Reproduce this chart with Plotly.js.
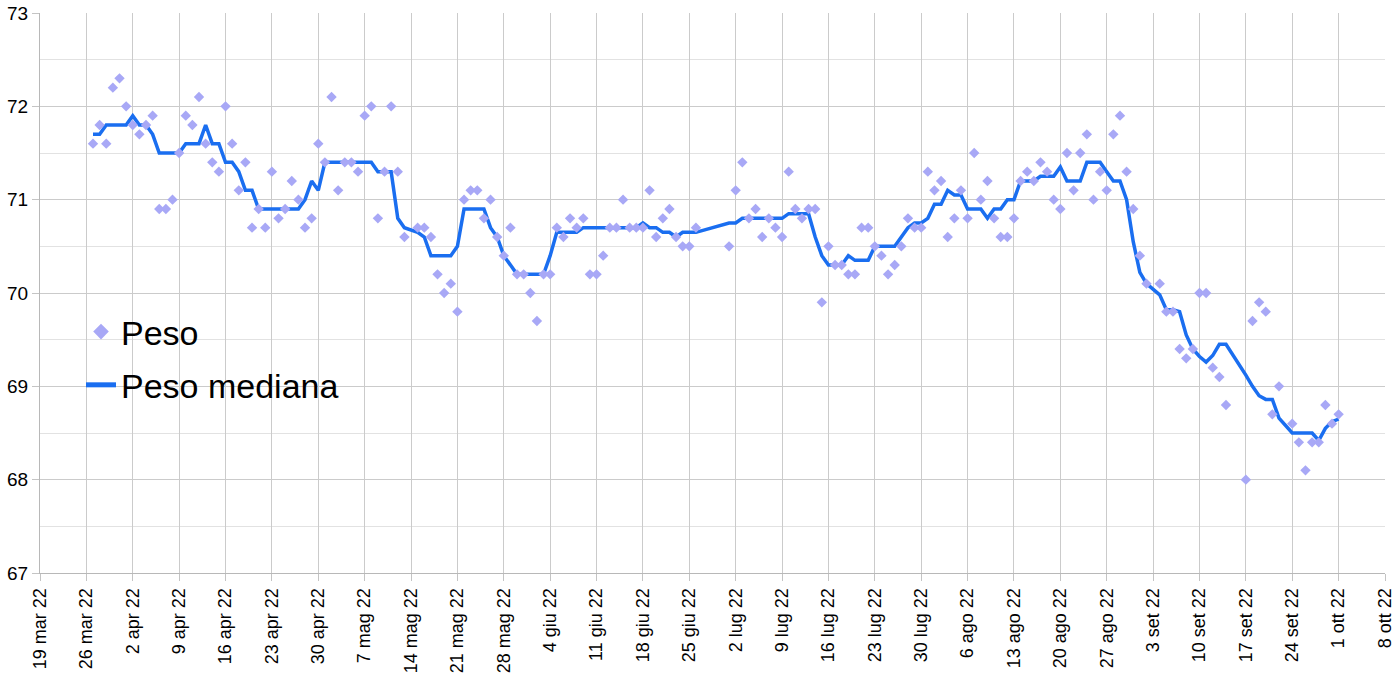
<!DOCTYPE html>
<html><head><meta charset="utf-8">
<script src="https://cdn.plot.ly/plotly-3.0.1.min.js"></script>
<style>html,body{margin:0;padding:0;background:#fff}#chart{width:1400px;height:674px}</style>
</head><body><div id="chart"></div>
<script>
// Dates of the measurements (one per day, with a few missing days)
const dates = [
 '2022-03-27','2022-03-28','2022-03-29','2022-03-30','2022-03-31',
 '2022-04-01','2022-04-02','2022-04-03','2022-04-04','2022-04-05','2022-04-06','2022-04-07','2022-04-08','2022-04-09','2022-04-10',
 '2022-04-11','2022-04-12','2022-04-13','2022-04-14','2022-04-15','2022-04-16','2022-04-17','2022-04-18','2022-04-19','2022-04-20',
 '2022-04-21','2022-04-22','2022-04-23','2022-04-24','2022-04-25','2022-04-26','2022-04-27','2022-04-28','2022-04-29','2022-04-30',
 '2022-05-01','2022-05-02','2022-05-03','2022-05-04','2022-05-05','2022-05-06','2022-05-07','2022-05-08','2022-05-09','2022-05-10',
 '2022-05-11','2022-05-12','2022-05-13',
 '2022-05-15','2022-05-16','2022-05-17','2022-05-18','2022-05-19','2022-05-20','2022-05-21','2022-05-22','2022-05-23','2022-05-24',
 '2022-05-25','2022-05-26','2022-05-27','2022-05-28','2022-05-29','2022-05-30','2022-05-31',
 '2022-06-01','2022-06-02','2022-06-03','2022-06-04','2022-06-05','2022-06-06','2022-06-07','2022-06-08','2022-06-09','2022-06-10',
 '2022-06-11','2022-06-12','2022-06-13','2022-06-14','2022-06-15','2022-06-16','2022-06-17','2022-06-18','2022-06-19','2022-06-20',
 '2022-06-21','2022-06-22','2022-06-23','2022-06-24','2022-06-25','2022-06-26',
 '2022-07-01','2022-07-02','2022-07-03','2022-07-04','2022-07-05','2022-07-06','2022-07-07','2022-07-08','2022-07-09','2022-07-10',
 '2022-07-11','2022-07-12','2022-07-13','2022-07-14','2022-07-15','2022-07-16','2022-07-17','2022-07-18','2022-07-19','2022-07-20',
 '2022-07-21','2022-07-22','2022-07-23','2022-07-24','2022-07-25','2022-07-26','2022-07-27','2022-07-28','2022-07-29','2022-07-30','2022-07-31',
 '2022-08-01','2022-08-02','2022-08-03','2022-08-04','2022-08-05','2022-08-06','2022-08-07','2022-08-08','2022-08-09','2022-08-10',
 '2022-08-11','2022-08-12','2022-08-13','2022-08-14','2022-08-15','2022-08-16','2022-08-17','2022-08-18','2022-08-19','2022-08-20',
 '2022-08-21','2022-08-22','2022-08-23','2022-08-24','2022-08-25','2022-08-26','2022-08-27','2022-08-28','2022-08-29','2022-08-30','2022-08-31',
 '2022-09-01','2022-09-02',
 '2022-09-04','2022-09-05','2022-09-06','2022-09-07','2022-09-08','2022-09-09','2022-09-10','2022-09-11','2022-09-12','2022-09-13','2022-09-14',
 '2022-09-17','2022-09-18','2022-09-19','2022-09-20','2022-09-21','2022-09-22',
 '2022-09-24','2022-09-25','2022-09-26','2022-09-27','2022-09-28','2022-09-29','2022-09-30',
 '2022-10-01'
];

// Peso (daily weight, kg)
const peso = [
 71.6,71.8,71.6,72.2,72.3,
 72.0,71.8,71.7,71.8,71.9,70.9,70.9,71.0,71.5,71.9,
 71.8,72.1,71.6,71.4,71.3,72.0,71.6,71.1,71.4,70.7,
 70.9,70.7,71.3,70.8,70.9,71.2,71.0,70.7,70.8,71.6,
 71.4,72.1,71.1,71.4,71.4,71.3,71.9,72.0,70.8,71.3,
 72.0,71.3,70.6,
 70.7,70.7,70.6,70.2,70.0,70.1,69.8,71.0,71.1,71.1,
 70.8,71.0,70.6,70.4,70.7,70.2,70.2,
 70.0,69.7,70.2,70.2,70.7,70.6,70.8,70.7,70.8,70.2,
 70.2,70.4,70.7,70.7,71.0,70.7,70.7,70.7,71.1,70.6,
 70.8,70.9,70.6,70.5,70.5,70.7,
 70.5,71.1,71.4,70.8,70.9,70.6,70.8,70.7,70.6,71.3,
 70.9,70.8,70.9,70.9,69.9,70.5,70.3,70.3,70.2,70.2,
 70.7,70.7,70.5,70.4,70.2,70.3,70.5,70.8,70.7,70.7,71.3,
 71.1,71.2,70.6,70.8,71.1,70.8,71.5,71.0,71.2,70.8,
 70.6,70.6,70.8,71.2,71.3,71.2,71.4,71.3,71.0,70.9,
 71.5,71.1,71.5,71.7,71.0,71.3,71.1,71.7,71.9,71.3,70.9,
 70.4,70.1,
 70.1,69.8,69.8,69.4,69.3,69.4,70.0,70.0,69.2,69.1,68.8,
 68.0,69.7,69.9,69.8,68.7,69.0,
 68.6,68.4,68.1,68.4,68.4,68.8,68.6,
 68.7
];

// Peso mediana (running median line, kg)
const pesoMediana = [
 71.7,71.7,71.8,71.8,71.8,
 71.8,71.9,71.8,71.8,71.7,71.5,71.5,71.5,71.5,71.6,
 71.6,71.6,71.8,71.6,71.6,71.4,71.4,71.3,71.1,71.1,
 70.9,70.9,70.9,70.9,70.9,70.9,70.9,71.0,71.2,71.1,
 71.4,71.4,71.4,71.4,71.4,71.4,71.4,71.4,71.3,71.3,
 71.3,70.8,70.7,
 70.65,70.6,70.4,70.4,70.4,70.4,70.5,70.9,70.9,70.9,
 70.9,70.7,70.6,70.4,70.3,70.2,70.2,
 70.2,70.2,70.2,70.4,70.65,70.65,70.65,70.65,70.7,70.7,
 70.7,70.7,70.7,70.7,70.7,70.7,70.7,70.75,70.7,70.7,
 70.65,70.65,70.6,70.65,70.65,70.65,
 70.75,70.75,70.8,70.8,70.8,70.8,70.8,70.8,70.8,70.85,
 70.85,70.85,70.85,70.6,70.4,70.3,70.3,70.3,70.4,70.35,
 70.35,70.35,70.5,70.5,70.5,70.5,70.6,70.7,70.75,70.75,70.8,
 70.95,70.95,71.1,71.05,71.05,70.9,70.9,70.9,70.8,70.9,
 70.9,71.0,71.0,71.2,71.2,71.2,71.25,71.25,71.25,71.35,
 71.2,71.2,71.2,71.4,71.4,71.4,71.3,71.2,71.2,71.0,70.55,
 70.22,70.1,
 69.98,69.82,69.82,69.8,69.55,69.4,69.32,69.26,69.33,69.45,69.45,
 69.12,69.0,68.9,68.86,68.86,68.66,
 68.5,68.5,68.5,68.5,68.42,68.55,68.62,
 68.65
];

// Axis ticks
const tickDates = ['2022-03-19','2022-03-26','2022-04-02','2022-04-09','2022-04-16','2022-04-23','2022-04-30',
 '2022-05-07','2022-05-14','2022-05-21','2022-05-28','2022-06-04','2022-06-11','2022-06-18','2022-06-25',
 '2022-07-02','2022-07-09','2022-07-16','2022-07-23','2022-07-30','2022-08-06','2022-08-13','2022-08-20',
 '2022-08-27','2022-09-03','2022-09-10','2022-09-17','2022-09-24','2022-10-01','2022-10-08'];
const tickLabels = ['19 mar 22','26 mar 22','2 apr 22','9 apr 22','16 apr 22','23 apr 22','30 apr 22',
 '7 mag 22','14 mag 22','21 mag 22','28 mag 22','4 giu 22','11 giu 22','18 giu 22','25 giu 22',
 '2 lug 22','9 lug 22','16 lug 22','23 lug 22','30 lug 22','6 ago 22','13 ago 22','20 ago 22',
 '27 ago 22','3 set 22','10 set 22','17 set 22','24 set 22','1 ott 22','8 ott 22'];
const yTickVals = [67,68,69,70,71,72,73];
const seriesNames = ['Peso','Peso mediana'];

const FONT = 'Liberation Sans, Arial, Helvetica, sans-serif';

const traces = [
  {
    x: dates, y: pesoMediana, name: seriesNames[1], type: 'scatter', mode: 'lines',
    line: {color: '#1a6ef0', width: 3.5, shape: 'linear'},
    legendgroup: 'b', legendrank: 2, hoverinfo: 'skip'
  },
  {
    x: dates, y: peso, name: seriesNames[0], type: 'scatter', mode: 'markers',
    marker: {symbol: 'diamond', size: 8, color: '#a8a8f6', line: {width: 0}},
    legendgroup: 'a', legendrank: 1, hoverinfo: 'skip'
  }
];

const layout = {
  width: 1400, height: 674,
  margin: {l: 40, r: 15, t: 13, b: 101, autoexpand: false},
  paper_bgcolor: '#ffffff', plot_bgcolor: '#ffffff',
  font: {family: FONT, color: '#000'},
  showlegend: true,
  legend: {
    x: 0.0305, y: 0.383, xanchor: 'left', yanchor: 'middle',
    bgcolor: 'rgba(0,0,0,0)', borderwidth: 0,
    font: {family: FONT, size: 34, color: '#000'},
    itemsizing: 'constant', tracegroupgap: 6, traceorder: 'grouped'
  },
  xaxis: {
    type: 'date', range: ['2022-03-19', '2022-10-08'],
    tickmode: 'array', tickvals: tickDates, ticktext: tickLabels,
    tickangle: -90, tickfont: {family: FONT, size: 18, color: '#000'},
    ticks: 'outside', ticklen: 7, tickcolor: '#c4c4c4', tickwidth: 1,
    showgrid: true, gridcolor: '#cbcbcb', gridwidth: 1,
    showline: true, linecolor: '#b8b8b8', linewidth: 1,
    zeroline: false, fixedrange: true
  },
  yaxis: {
    range: [67, 73], tickmode: 'array', tickvals: yTickVals,
    tickfont: {family: FONT, size: 19, color: '#000'},
    ticks: 'outside', ticklen: 7, tickcolor: '#c4c4c4', tickwidth: 1,
    showgrid: true, gridcolor: '#cbcbcb', gridwidth: 1,
    minor: {tickmode: 'linear', tick0: 67, dtick: 0.5, showgrid: true, gridcolor: '#e2e2e2', ticks: ''},
    showline: true, linecolor: '#b8b8b8', linewidth: 1,
    zeroline: false, fixedrange: true
  }
};

Plotly.newPlot('chart', traces, layout, {displayModeBar: false, staticPlot: true});
</script>
</body></html>
